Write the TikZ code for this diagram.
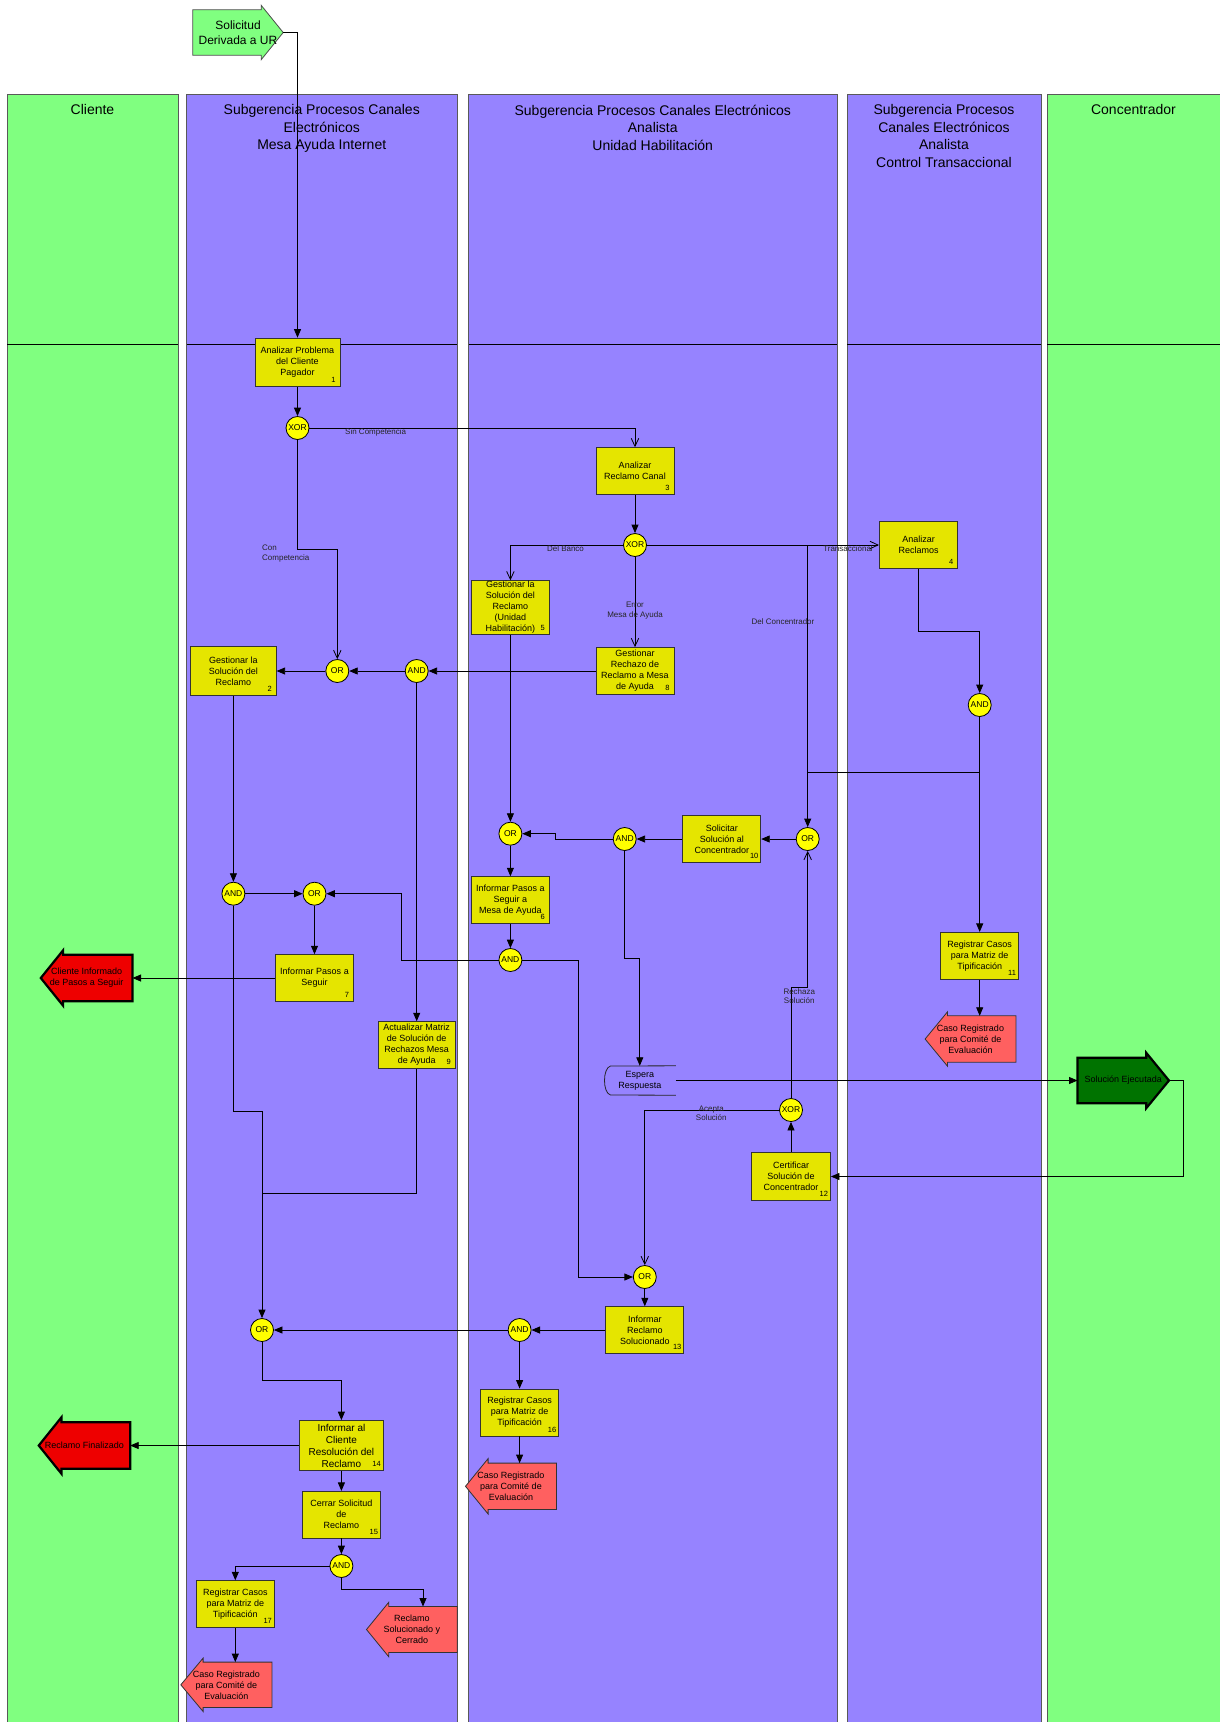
\documentclass[tikz,border=0pt]{standalone}
\usepackage{fontspec}
\setmainfont{Liberation Sans}
\usetikzlibrary{arrows.meta,calc}
\definecolor{lanegreen}{RGB}{128,255,128}
\definecolor{lanepurple}{RGB}{150,131,255}
\definecolor{taskyellow}{RGB}{229,229,0}
\definecolor{gateyellow}{RGB}{255,255,0}
\definecolor{evred}{RGB}{238,0,0}
\definecolor{evsalmon}{RGB}{255,96,96}
\definecolor{evdkgreen}{RGB}{0,115,0}
\newcommand{\ShapeFont}{\fontsize{9}{11}\selectfont}
\newcommand{\ShapeArrowL}[9]{%
  \node[inner sep=0, minimum width=#4pt, minimum height=#5pt] (#1) at (#2,#3) {};
  \draw[#8] (#1.north east) -- (#1.north west) -- ++(0,-#6) -- ($(#1.west)+(-#7,0)$) -- ($(#1.south west)+(0,#6)$) -- (#1.south west) -- (#1.south east) -- cycle;
  \coordinate (#1-tip) at ($(#1.west)+(-#7,0)$);
  \node[shapetext] (#1-t) at ($(#1.center)+(-#7/2,0)$) {#9};
}
\newcommand{\ShapeArrowR}[9]{%
  \node[inner sep=0, minimum width=#4pt, minimum height=#5pt] (#1) at (#2,#3) {};
  \draw[#8] (#1.north west) -- (#1.north east) -- ++(0,-#6) -- ($(#1.east)+(#7,0)$) -- ($(#1.south east)+(0,#6)$) -- (#1.south east) -- (#1.south west) -- cycle;
  \coordinate (#1-tip) at ($(#1.east)+(#7,0)$);
  \node[shapetext] (#1-t) at ($(#1.center)+(#7/2,0)$) {#9};
}
\begin{document}
\begin{tikzpicture}[x=1pt,y=-1pt,
  lane/.style={draw=black!65, line width=0.9pt},
  lanesep/.style={draw=black, line width=1pt},
  lanehead/.style={font=\fontsize{14}{17.5}\selectfont, align=center, anchor=north, inner sep=0},
  task/.style={draw=black!80, fill=taskyellow, line width=0.8pt, minimum width=78pt, minimum height=46.7pt, inner sep=0, align=center, font=\fontsize{9}{11}\selectfont},
  num/.style={font=\fontsize{7.5}{8}\selectfont, inner sep=0},
  gate/.style={circle, draw=black, fill=gateyellow, line width=0.8pt, minimum size=23pt, inner sep=0, font=\fontsize{8.5}{9}\selectfont},
  flow/.style={draw=black, line width=0.8pt, -{Triangle[length=8.5pt,width=7pt]}},
  cond/.style={draw=black, line width=0.8pt, -{Straight Barb[length=8pt,width=7.5pt]}},
  joinline/.style={draw=black, line width=0.8pt},
  lbl/.style={font=\fontsize{8}{9.5}\selectfont, inner sep=0, align=center, text=black!85},
  shapetext/.style={font=\ShapeFont, inner sep=0, align=center},
  redshape/.style={fill=evred, draw=black, line width=2.2pt},
  greenshape/.style={fill=evdkgreen, draw=black, line width=2.2pt},
  salmonshape/.style={fill=evsalmon, draw=black!80, line width=0.8pt},
  startshape/.style={fill=lanegreen, draw=black!70, line width=0.8pt}
]
\useasboundingbox (0,0) rectangle (1219,1722);
% lanes
\path[lane, fill=lanegreen] (7,94.5) rectangle (178,1730);
\path[lane, fill=lanepurple] (186.5,94.5) rectangle (457,1730);
\path[lane, fill=lanepurple] (468.5,94.5) rectangle (837,1730);
\path[lane, fill=lanepurple] (847,94.5) rectangle (1041,1730);
\path[lane, fill=lanegreen] (1047,94.5) rectangle (1224,1730);
\draw[lanesep] (7,344.7) -- (178,344.7);
\draw[lanesep] (186.5,344.7) -- (457,344.7);
\draw[lanesep] (468.5,344.7) -- (837,344.7);
\draw[lanesep] (847,344.7) -- (1041,344.7);
\draw[lanesep] (1047,344.7) -- (1224,344.7);
\node[lanehead] (h1) at (92.5,104.5) {Cliente};
\node[lanehead] (h2) at (321.75,104.5) {Subgerencia Procesos Canales\\Electrónicos\\Mesa Ayuda Internet};
\node[lanehead] (h3) at (652.75,104.5) {Subgerencia Procesos Canales Electrónicos\\Analista\\Unidad Habilitación};
\node[lanehead] (h4) at (944,104.5) {Subgerencia Procesos\\Canales Electrónicos\\Analista\\Control Transaccional};
\node[lanehead] (h5) at (1133.5,104.5) {Concentrador};

% events
\renewcommand{\ShapeFont}{\fontsize{12}{15}\selectfont}
\ShapeArrowR{st}{227}{32.5}{68}{45}{4.5}{22}{startshape}{Solicitud\\Derivada a UR}
\renewcommand{\ShapeFont}{\fontsize{9}{11}\selectfont}
\ShapeArrowR{sol}{1111.9}{1080.5}{68.3}{45}{5}{22.7}{greenshape}{Solución Ejecutada}
\ShapeArrowL{ci}{97.8}{978}{69}{46}{4.5}{22.3}{redshape}{Cliente Informado\\de Pasos a Seguir}
\ShapeArrowL{rf}{95.8}{1445.5}{68.3}{46}{5}{22.7}{redshape}{Reclamo Finalizado}
\ShapeArrowL{cr11}{981.7}{1039}{68}{46}{4}{22.4}{salmonshape}{Caso Registrado\\para Comité de\\Evaluación}
\ShapeArrowL{cr16}{522.3}{1486.3}{68}{46}{4.5}{22.6}{salmonshape}{Caso Registrado\\para Comité de\\Evaluación}
\ShapeArrowL{cr17}{237.5}{1684.8}{68.4}{45}{4}{22.3}{salmonshape}{Caso Registrado\\para Comité de\\Evaluación}
\ShapeArrowL{rs}{423}{1629.5}{68}{45.6}{4.3}{22.3}{salmonshape}{Reclamo\\Solucionado y\\Cerrado}

% tasks
\node[task, minimum width=85pt, minimum height=48.3pt] (t1) at (297.5,362.2) {Analizar Problema\\del Cliente\\Pagador};
\node[task, minimum width=85.6pt, minimum height=48.3pt] (t2) at (233.4,671) {Gestionar la\\Solución del\\Reclamo};
\node[task] (t3) at (635,471) {Analizar\\Reclamo Canal};
\node[task, minimum width=78.4pt] (t4) at (918.5,545) {Analizar\\Reclamos};
\node[task, minimum height=53.6pt] (t5) at (510.4,607.5) {Gestionar la\\Solución del\\Reclamo\\(Unidad\\Habilitación)};
\node[task] (t6) at (510.4,900) {Informar Pasos a\\Seguir a\\Mesa de Ayuda};
\node[task] (t7) at (314.5,978) {Informar Pasos a\\Seguir};
\node[task, minimum height=47pt] (t8) at (635,671) {Gestionar\\Rechazo de\\Reclamo a Mesa\\de Ayuda};
\node[task, minimum width=77.2pt] (t9) at (416.7,1045) {Actualizar Matriz\\de Solución de\\Rechazos Mesa\\de Ayuda};
\node[task] (t10) at (721.8,839) {Solicitar\\Solución al\\Concentrador};
\node[task, minimum height=47pt] (t11) at (979.7,955.8) {Registrar Casos\\para Matriz de\\Tipificación};
\node[task, minimum width=79pt, minimum height=47.6pt] (t12) at (791,1176.5) {Certificar\\Solución de\\Concentrador};
\node[task] (t13) at (644.8,1330) {Informar\\Reclamo\\Solucionado};
\node[task, minimum width=83.6pt, minimum height=50pt, font=\fontsize{10}{12}\selectfont] (t14) at (341.4,1445.5) {Informar al\\Cliente\\Resolución del\\Reclamo};
\node[task] (t15) at (341.4,1514.7) {Cerrar Solicitud\\de\\Reclamo};
\node[task, minimum height=47pt] (t16) at (519.6,1412.5) {Registrar Casos\\para Matriz de\\Tipificación};
\node[task, minimum height=47pt] (t17) at (235.3,1604.2) {Registrar Casos\\para Matriz de\\Tipificación};
\foreach \t/\n in {t1/1,t2/2,t3/3,t4/4,t5/5,t6/6,t7/7,t8/8,t9/9,t10/10,t11/11,t12/12,t13/13,t14/14,t15/15,t16/16,t17/17}
  \node[num] (n\n) at ($(\t.south east)+(-7,-7)$) {\n};

% wait shape
\node[inner sep=0, minimum width=71.6pt, minimum height=29pt, font=\fontsize{9}{11}\selectfont, align=center] (esp) at (639.8,1080.5) {Espera\\Respuesta};
\draw[line width=0.8pt, black!85] (esp.north east) -- (610.5,1066) .. controls (602.5,1068) and (602.5,1093) .. (610.5,1095) -- (esp.south east);

% gateways
\node[gate] (x1) at (297.5,428) {XOR};
\node[gate] (x2) at (635,545) {XOR};
\node[gate] (and4) at (979.7,705) {AND};
\node[gate] (or2) at (337.3,671) {OR};
\node[gate] (and2) at (416.7,671) {AND};
\node[gate] (or10) at (807.7,839) {OR};
\node[gate] (and10) at (624.7,839) {AND};
\node[gate] (or6) at (510.4,833.7) {OR};
\node[gate] (and6) at (510.4,960) {AND};
\node[gate] (and7) at (233.4,893.7) {AND};
\node[gate] (or7) at (314.5,893.7) {OR};
\node[gate] (x3) at (791,1110) {XOR};
\node[gate] (or13) at (644.8,1277) {OR};
\node[gate] (and13) at (519.6,1330) {AND};
\node[gate] (orB) at (262,1330) {OR};
\node[gate] (and15) at (341.4,1566) {AND};

% connectors
\draw[flow] (st-tip) -| (t1.north);
\draw[flow] (t1) -- (x1);
\draw[cond] (x1.east) -| (t3.north);
\coordinate (k1) at (297.5,549.3);
\draw[cond] (x1.south) -- (k1) -| (or2.north);
\draw[flow] (t3) -- (x2);
\draw[cond] (x2.west) -| (t5.north);
\draw[cond] (x2.south) -- (t8.north);
\draw[cond] (x2.east) -- (t4.west);
\draw[flow] (x2.east -| or10.north) -- (or10.north);
\coordinate (k2) at (918.5,631);
\draw[flow] (t4.south) -- (k2) -| (and4.north);
\draw[flow] (and4) -- (t11);
\coordinate (k3) at (807.7,772);
\draw[joinline] (and4.south) |- (k3);
\draw[flow] (t11.south) -- (t11.south |- cr11.north);
\draw[flow] (t8.west) -- (and2.east);
\draw[flow] (and2) -- (or2);
\draw[flow] (or2) -- (t2);
\draw[flow] (and2) -- (t9);
\draw[flow] (t5) -- (or6);
\draw[flow] (or10) -- (t10);
\draw[flow] (t10) -- (and10);
\draw[flow] (and10.west) -- ++(-57,0) |- (or6.east);
\coordinate (k5) at (624.7,958.3);
\draw[flow] (and10.south) -- (k5) -| (esp.north);
\draw[flow] (or6) -- (t6);
\draw[flow] (t6) -- (and6);
\coordinate (k6) at (401.7,960);
\draw[flow] (and6.west) -- (k6) |- (or7.east);
\coordinate (k7) at (578.3,960);
\draw[flow] (and6.east) -- (k7) |- (or13.west);
\draw[flow] (t2) -- (and7);
\draw[flow] (and7) -- (or7);
\draw[flow] (or7) -- (t7);
\draw[flow] (t7.west) -- (ci.east);
\coordinate (k8) at (233.4,1111.7);
\draw[flow] (and7.south) -- (k8) -| (orB.north);
\coordinate (k9) at (262,1193.7);
\draw[joinline] (t9.south) |- (k9);
\draw[flow] (esp.east) -- (sol.west);
\coordinate (k10) at (1183,1080.5);
\draw[flow] (sol-tip) -- (k10) |- (t12.east);
\draw[flow] (t12) -- (x3);
\coordinate (k11) at (791,987.3);
\draw[cond] (x3.north) -- (k11) -| (or10.south);
\draw[cond] (x3.west) -| (or13.north);
\draw[flow] (or13) -- (t13);
\draw[flow] (t13) -- (and13);
\draw[flow] (and13) -- (orB);
\draw[flow] (and13) -- (t16);
\draw[flow] (t16.south) -- (t16.south |- cr16.north);
\coordinate (k12) at (262,1380.7);
\draw[flow] (orB.south) -- (k12) -| (t14.north);
\draw[flow] (t14.west) -- (rf.east);
\draw[flow] (t14) -- (t15);
\draw[flow] (t15) -- (and15);
\draw[flow] (and15.west) -| (t17.north);
\coordinate (k13) at (341.4,1589.3);
\draw[flow] (and15.south) -- (k13) -| (rs.north);
\draw[flow] (t17.south) -- (t17.south |- cr17.north);

% labels
\node[lbl, anchor=west] (l1) at (345,432.5) {Sin Competencia};
\node[lbl, anchor=west, align=left] (l2) at (262,553.5) {Con\\Competencia};
\node[lbl] (l3) at (565.5,549) {Del Banco};
\node[lbl] (l4) at (635,610.5) {Error\\Mesa de Ayuda};
\node[lbl] (l5) at (848,549) {Transaccional};
\node[lbl] (l6) at (783,622) {Del Concentrador};
\node[lbl] (l7) at (799.3,996) {Rechaza\\Solución};
\node[lbl] (l8) at (711.3,1113.5) {Acepta\\Solución};
\end{tikzpicture}
\end{document}
